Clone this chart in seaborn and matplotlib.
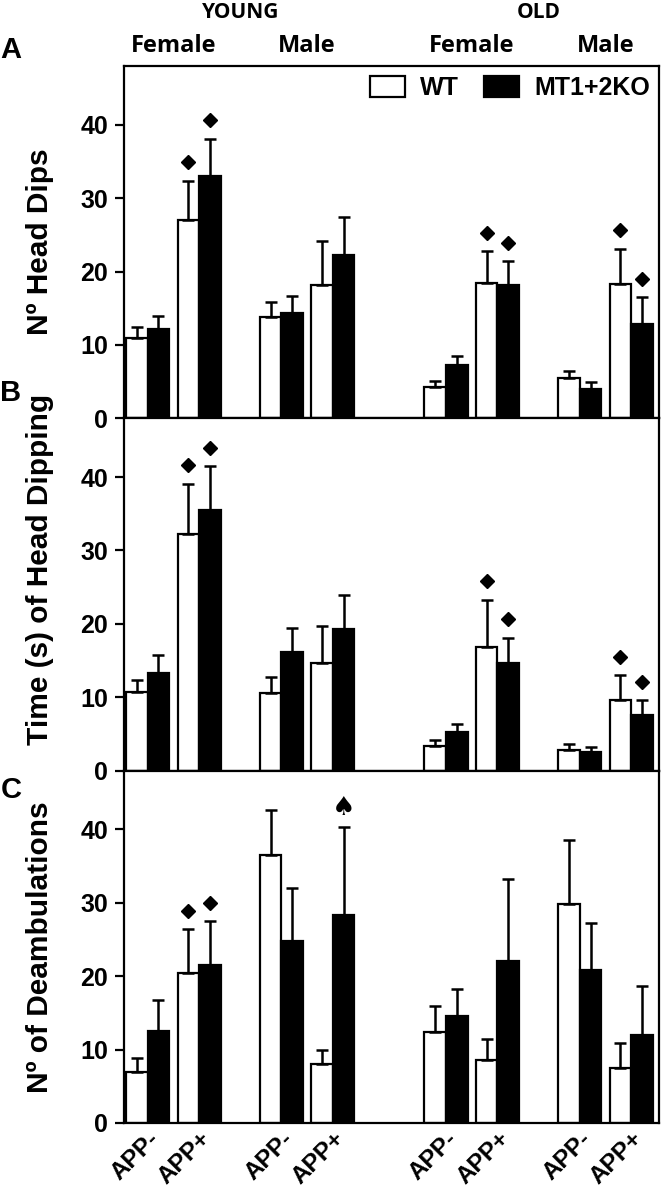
import numpy as np
import pandas as pd
import matplotlib
matplotlib.use("Agg")
import matplotlib.pyplot as plt
import matplotlib.transforms as mtransforms
from matplotlib.patches import Patch
import seaborn as sns

OUTPUT_IMAGE_PATH = "out.png"

# x layout: young female, young male, old female, old male (APP- / APP+ each)
positions = [0, 1, 2.6, 3.6, 5.8, 6.8, 8.4, 9.4]
tick_labels = ["APP-", "APP+"] * 4
genotypes = ["WT", "MT1+2KO"]

sex_labels = ["Female", "Male", "Female", "Male"]
sex_pos = [0.5, 3.1, 6.3, 8.9]
age_labels = ["YOUNG", "OLD"]
age_pos = [1.8, 7.6]

# panel A - number of head dips
dips_wt = [11.0, 27.0, 13.8, 18.1, 4.3, 18.4, 5.5, 18.3]
dips_wt_sem = [1.4, 5.4, 2.1, 6.1, 0.8, 4.4, 1.0, 4.8]
dips_ko = [12.2, 33.0, 14.3, 22.3, 7.2, 18.1, 4.0, 12.8]
dips_ko_sem = [1.8, 5.1, 2.4, 5.1, 1.3, 3.3, 1.0, 3.7]

# panel B - time of head dipping (s)
time_wt = [10.7, 32.3, 10.6, 14.6, 3.4, 16.9, 2.8, 9.6]
time_wt_sem = [1.6, 6.8, 2.1, 5.1, 0.8, 6.4, 0.8, 3.4]
time_ko = [13.3, 35.5, 16.1, 19.3, 5.2, 14.6, 2.5, 7.6]
time_ko_sem = [2.5, 6.0, 3.4, 4.7, 1.2, 3.5, 0.7, 2.0]

# panel C - number of deambulations
deamb_wt = [7.0, 20.4, 36.5, 8.0, 12.4, 8.6, 29.9, 7.5]
deamb_wt_sem = [1.9, 6.0, 6.1, 2.0, 3.6, 2.9, 8.6, 3.4]
deamb_ko = [12.6, 21.5, 24.8, 28.3, 14.6, 22.1, 20.9, 12.0]
deamb_ko_sem = [4.2, 6.0, 7.2, 12.0, 3.6, 11.1, 6.3, 6.6]

# significance marks (bar index per genotype)
dips_marks = {"WT": [1, 5, 7], "MT1+2KO": [1, 5, 7]}
time_marks = {"WT": [1, 5, 7], "MT1+2KO": [1, 5, 7]}
deamb_marks = {"WT": [1], "MT1+2KO": [1]}
deamb_spade = {"WT": [], "MT1+2KO": [3]}


def make_frame(wt, ko):
    return pd.DataFrame({
        "pos": positions * 2,
        "genotype": ["WT"] * len(wt) + ["MT1+2KO"] * len(ko),
        "value": list(wt) + list(ko),
    })


def draw_panel(ax, wt, wt_sem, ko, ko_sem, marks, spades=None):
    df = make_frame(wt, ko)
    sns.barplot(data=df, x="pos", y="value", hue="genotype", hue_order=genotypes,
                palette={"WT": "white", "MT1+2KO": "black"}, native_scale=True,
                width=0.84, errorbar=None, edgecolor="black", linewidth=1.6,
                legend=False, ax=ax)
    sems = {"WT": np.array(wt_sem), "MT1+2KO": np.array(ko_sem)}
    means = {"WT": np.array(wt), "MT1+2KO": np.array(ko)}
    for cont, g in zip(ax.containers, genotypes):
        xs = np.array([p.get_x() + p.get_width() / 2 for p in cont.patches])
        ax.errorbar(xs, means[g], yerr=[np.zeros(len(xs)), sems[g]], fmt="none",
                    ecolor="black", elinewidth=1.8, capsize=4.5, capthick=1.8, zorder=3)
        idx = marks.get(g, [])
        if idx:
            ax.plot(xs[idx], means[g][idx] + sems[g][idx] + 2.5, "D", color="black",
                    ms=7.5, zorder=4)
        if spades:
            for i in spades.get(g, []):
                ax.text(xs[i], means[g][i] + sems[g][i] + 2.6, "\u2660", ha="center",
                        va="center", fontsize=19, family="DejaVu Sans")
    ax.set_xlim(-0.46, 9.94)
    ax.set_ylim(0, 48)
    ax.set_yticks([0, 10, 20, 30, 40])
    ax.set_xlabel("")
    for side in ["left", "right", "top", "bottom"]:
        ax.spines[side].set_visible(True)
        ax.spines[side].set_linewidth(1.6)
        ax.spines[side].set_color("black")
    ax.tick_params(axis="y", direction="out", length=6.5, width=1.6, pad=5,
                   labelsize=18, colors="black")


sns.set_style("ticks")
plt.rcParams["font.family"] = ["Liberation Sans", "DejaVu Sans"]
plt.rcParams["font.weight"] = "bold"
plt.rcParams["axes.labelweight"] = "bold"
plt.rcParams["text.color"] = "black"
plt.rcParams["axes.labelcolor"] = "black"
plt.rcParams["xtick.color"] = "black"
plt.rcParams["ytick.color"] = "black"

fig = plt.figure(figsize=(6.61, 11.92), dpi=100)
W, H = 661.0, 1192.0
left, right = 124 / W, 659 / W
top_px, bottom_px = 66, 1123
panel_h = (bottom_px - top_px) / 3.0
axes = []
for k in range(3):
    y0 = 1 - (top_px + (k + 1) * panel_h) / H
    axes.append(fig.add_axes([left, y0, right - left, panel_h / H]))
ax_a, ax_b, ax_c = axes

draw_panel(ax_a, dips_wt, dips_wt_sem, dips_ko, dips_ko_sem, dips_marks)
draw_panel(ax_b, time_wt, time_wt_sem, time_ko, time_ko_sem, time_marks)
draw_panel(ax_c, deamb_wt, deamb_wt_sem, deamb_ko, deamb_ko_sem, deamb_marks,
           deamb_spade)

for ax in (ax_a, ax_b):
    ax.set_xticks([])
ax_c.set_xticks(positions)
ax_c.set_xticklabels(tick_labels, rotation=45, ha="right", rotation_mode="anchor",
                     fontsize=17.5, fontweight="heavy")
ax_c.tick_params(axis="x", length=0, pad=3)

# y labels
ylabels = ["N\u00ba Head Dips", "Time (s) of Head Dipping", "N\u00ba of Deambulations"]
label_y = [0.5, 0.572, 0.5]
for ax, txt, yy in zip(axes, ylabels, label_y):
    ax.set_ylabel(txt, fontsize=21.5, fontweight="bold")
    ax.yaxis.label.set_va("center")
    ax.yaxis.set_label_coords(-0.157, yy)

# panel letters
for letter, ypx in zip(["A", "B", "C"], [50, 393, 790]):
    fig.text(11 / W, 1 - ypx / H, letter, ha="center", va="center", fontsize=21,
             fontweight="bold")

# group headers
trans = mtransforms.blended_transform_factory(ax_a.transData, ax_a.transAxes)
for txt, xx in zip(sex_labels, sex_pos):
    ax_a.text(xx, 1.057, txt, transform=trans, ha="center", va="center",
              fontsize=17, family=["Open Sans", "DejaVu Sans"], fontweight="bold")
for txt, xx in zip(age_labels, age_pos):
    ax_a.text(xx, 1.153, txt, transform=trans, ha="center", va="center",
              fontsize=15, family=["Open Sans", "DejaVu Sans"], fontweight="bold")

# legend
handles = [Patch(facecolor="white", edgecolor="black", linewidth=1.6, label="WT"),
           Patch(facecolor="black", edgecolor="black", linewidth=1.6, label="MT1+2KO")]
leg = ax_a.legend(handles=handles, ncol=2, loc="center right",
                  bbox_to_anchor=(1.006, 0.9375), frameon=False, borderpad=0,
                  handlelength=1.4, handleheight=0.95, handletextpad=0.6,
                  columnspacing=1.0, prop={"size": 18, "weight": "bold"})

fig.savefig(OUTPUT_IMAGE_PATH, dpi=100)
plt.close(fig)
